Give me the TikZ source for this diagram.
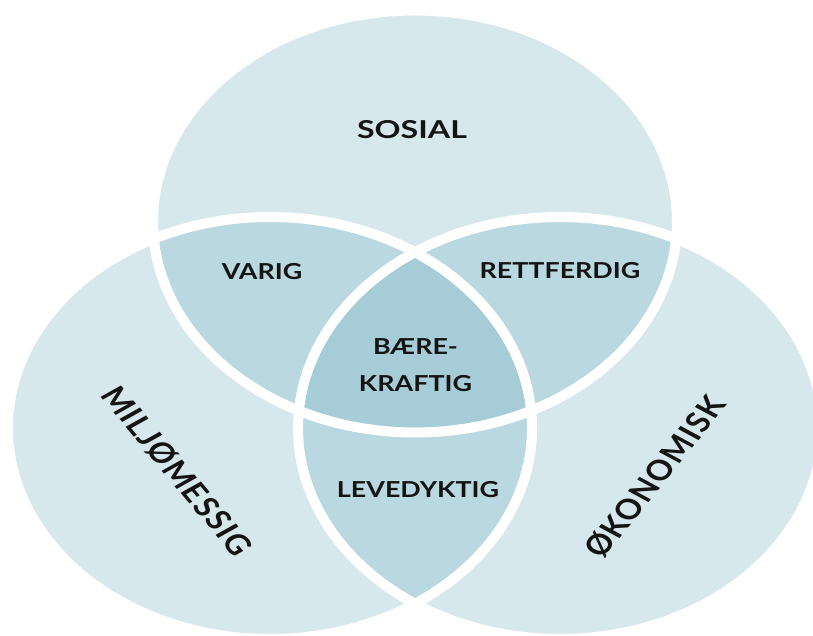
\documentclass[tikz,border=0pt]{standalone}
\usepackage{fontspec}
\setmainfont{Lato}

\definecolor{venn}{RGB}{110,173,191}
\definecolor{ink}{RGB}{20,20,20}

\begin{document}
\begin{tikzpicture}[x=0.75pt,y=0.75pt,
  area/.style={fill=venn,fill opacity=0.28},
  gap/.style={draw=white,line width=7.5pt},
  word/.style={font=\bfseries\fontsize{16.5}{27.4}\selectfont,text=ink,xscale=1.22,inner sep=0pt},
  bigword/.style={word,font=\bfseries\fontsize{21}{25}\selectfont\addfontfeature{LetterSpace=4}}]
\useasboundingbox (0,0) rectangle (813,635);

% three circles, then the white gaps on top
\fill[area] (415,413.5) ellipse [x radius=262,y radius=211];
\fill[area] (270,207) ellipse [x radius=262,y radius=211];
\fill[area] (560,207) ellipse [x radius=262,y radius=211];
\draw[gap] (415,413.5) ellipse [x radius=262,y radius=211];
\draw[gap] (270,207) ellipse [x radius=262,y radius=211];
\draw[gap] (560,207) ellipse [x radius=262,y radius=211];

\node[word,font=\bfseries\fontsize{18.5}{22}\selectfont,xscale=1.07] (sosial) at (412,505.5) {SOSIAL};
\node[bigword,rotate=-55.7] (miljo) at (177,164) {MILJØMESSIG};
\node[bigword,rotate=56.5] (okonomi) at (655,158) {ØKONOMISK};

\node[word] (varig) at (262,363) {VARIG};
\node[word] (rett) at (560,364) {RETTFERDIG};
\node[word] (leve) at (418,145) {LEVEDYKTIG};
\node[word,align=center] (bare) at (415.5,270) {BÆRE-\\KRAFTIG};
\end{tikzpicture}
\end{document}
